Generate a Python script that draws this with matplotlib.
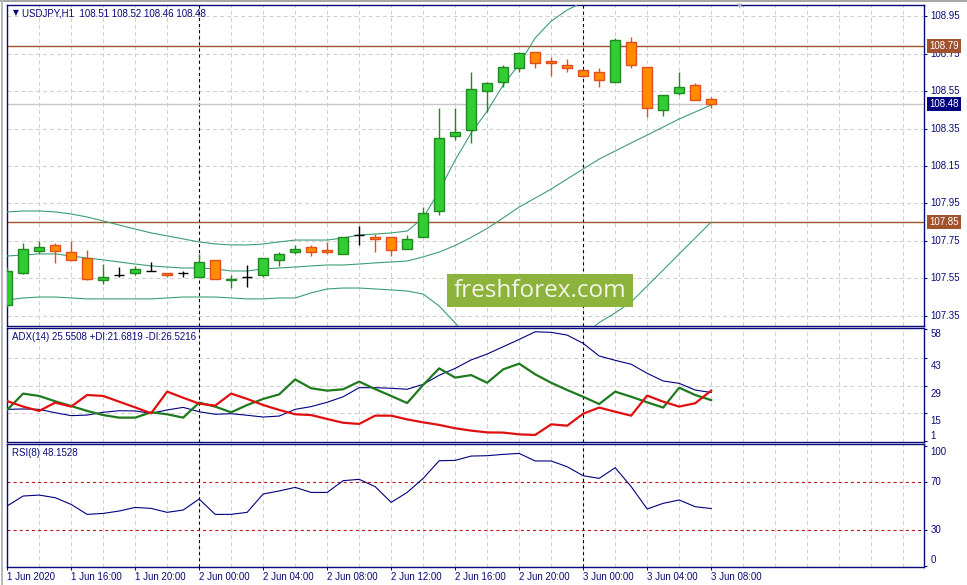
import matplotlib
matplotlib.use("Agg")
import matplotlib.pyplot as plt
import numpy as np
from matplotlib.patches import Rectangle
from matplotlib.transforms import offset_copy

plt.rcParams["font.family"] = ["Liberation Sans", "DejaVu Sans"]
plt.rcParams["lines.scale_dashes"] = False

# ---- data (bar 0 = 1 Jun 12:00) ----
TIME_LABELS = ["1 Jun 2020", "1 Jun 16:00", "1 Jun 20:00", "2 Jun 00:00", "2 Jun 04:00",
               "2 Jun 08:00", "2 Jun 12:00", "2 Jun 16:00", "2 Jun 20:00", "3 Jun 00:00",
               "3 Jun 04:00", "3 Jun 08:00"]
LABEL_BARS = [0, 4, 8, 12, 16, 20, 24, 28, 32, 36, 40, 44]
DAY_SEPARATORS = [12, 36]

opens = [107.409, 107.579, 107.697, 107.729, 107.691, 107.659, 107.542, 107.569, 107.579, 107.590,
         107.579, 107.579, 107.558, 107.649, 107.542, 107.558, 107.569, 107.649, 107.691, 107.718,
         107.702, 107.681, 107.782, 107.771, 107.771, 107.707, 107.771, 107.910, 108.310, 108.342,
         108.550, 108.598, 108.673, 108.758, 108.710, 108.689, 108.662, 108.651, 108.598, 108.811,
         108.678, 108.449, 108.539, 108.582, 108.51]
highs = [107.610, 107.739, 107.750, 107.739, 107.750, 107.702, 107.627, 107.611, 107.617, 107.638,
         107.579, 107.590, 107.681, 107.649, 107.569, 107.622, 107.659, 107.691, 107.729, 107.729,
         107.745, 107.771, 107.830, 107.786, 107.771, 107.782, 107.931, 108.459, 108.459, 108.651,
         108.598, 108.689, 108.758, 108.758, 108.731, 108.721, 108.662, 108.673, 108.833, 108.838,
         108.678, 108.529, 108.651, 108.593, 108.52]
lows = [107.400, 107.575, 107.686, 107.633, 107.649, 107.542, 107.521, 107.558, 107.569, 107.590,
        107.558, 107.558, 107.558, 107.547, 107.499, 107.505, 107.558, 107.617, 107.681, 107.670,
        107.681, 107.681, 107.729, 107.691, 107.670, 107.707, 107.771, 107.889, 108.289, 108.273,
        108.438, 108.571, 108.651, 108.673, 108.630, 108.651, 108.625, 108.571, 108.598, 108.673,
        108.411, 108.417, 108.529, 108.502, 108.46]
closes = [107.590, 107.707, 107.718, 107.697, 107.649, 107.547, 107.558, 107.569, 107.601, 107.590,
          107.569, 107.579, 107.638, 107.547, 107.546, 107.558, 107.659, 107.681, 107.707, 107.691,
          107.691, 107.771, 107.782, 107.761, 107.702, 107.761, 107.899, 108.299, 108.331, 108.561,
          108.593, 108.678, 108.753, 108.699, 108.699, 108.673, 108.630, 108.609, 108.822, 108.689,
          108.459, 108.529, 108.571, 108.502, 108.48]

bb_upper = [107.905, 107.910, 107.910, 107.905, 107.894, 107.878, 107.857, 107.835, 107.814, 107.793,
            107.777, 107.761, 107.745, 107.734, 107.729, 107.729, 107.734, 107.745, 107.755, 107.755,
            107.755, 107.766, 107.782, 107.787, 107.793, 107.803, 107.873, 108.017, 108.182, 108.326,
            108.443, 108.582, 108.694, 108.833, 108.923, 108.982, 109.025, 109.059, 109.094, 109.121,
            109.120, 109.121, 109.121, 109.110, 109.099]
bb_middle = [107.670, 107.675, 107.681, 107.681, 107.670, 107.659, 107.649, 107.638, 107.627, 107.617,
             107.611, 107.606, 107.606, 107.601, 107.590, 107.590, 107.601, 107.606, 107.611, 107.617,
             107.622, 107.622, 107.627, 107.633, 107.638, 107.643, 107.665, 107.691, 107.726, 107.769,
             107.817, 107.873, 107.931, 107.979, 108.027, 108.081, 108.134, 108.187, 108.230, 108.273,
             108.315, 108.358, 108.401, 108.438, 108.475]
bb_lower = [107.435, 107.446, 107.451, 107.451, 107.446, 107.441, 107.441, 107.441, 107.441, 107.441,
            107.446, 107.451, 107.451, 107.451, 107.446, 107.441, 107.441, 107.446, 107.446, 107.473,
            107.494, 107.499, 107.499, 107.494, 107.489, 107.483, 107.467, 107.403, 107.313, 107.212,
            107.191, 107.164, 107.168, 107.125, 107.131, 107.180, 107.243, 107.315, 107.366, 107.425,
            107.510, 107.595, 107.681, 107.766, 107.851]

adx = [17.0, 17.2, 17.0, 15.3, 13.8, 14.1, 15.5, 16.3, 16.2, 15.0, 16.7, 18.0, 15.8, 14.5, 14.8,
       14.0, 13.1, 13.6, 17.0, 18.4, 20.6, 23.4, 28.0, 28.0, 27.7, 27.2, 29.7, 34.3, 37.8, 42.1,
       45.1, 48.8, 52.5, 56.4, 56.1, 54.7, 50.5, 44.1, 41.9, 39.9, 35.3, 31.4, 30.2, 26.8, 25.5508]
plus_di = [16.7, 25.0, 23.8, 21.1, 18.7, 16.2, 14.1, 12.8, 12.8, 15.5, 14.5, 12.8, 20.4, 18.4, 15.5,
           19.2, 22.3, 24.6, 32.2, 27.7, 26.5, 27.2, 31.1, 27.3, 23.8, 20.2, 29.4, 37.8, 33.1, 34.4,
           30.5, 37.3, 40.2, 34.8, 30.5, 26.8, 23.4, 19.7, 26.0, 23.4, 20.6, 17.9, 28.0, 24.3, 21.6819]
minus_di = [21.2, 18.4, 16.2, 20.4, 18.4, 24.3, 23.8, 20.9, 18.0, 15.0, 26.0, 22.9, 19.9, 18.9, 25.0,
            22.3, 19.2, 16.7, 14.5, 14.1, 12.1, 10.2, 9.6, 13.8, 13.8, 11.9, 10.4, 9.1, 7.4, 6.2,
            5.3, 5.2, 4.3, 4.0, 9.4, 8.7, 14.8, 17.9, 15.8, 13.8, 24.0, 20.9, 18.4, 20.1, 26.5216]
rsi = [50.3, 58.6, 59.4, 57.2, 51.6, 43.3, 44.1, 46.1, 49.1, 48.3, 45.0, 46.9, 56.1, 43.3, 43.3,
       45.0, 60.3, 62.8, 65.8, 61.6, 61.6, 71.4, 72.5, 66.4, 53.3, 61.6, 73.3, 88.0, 88.3, 91.9,
       92.2, 93.3, 94.1, 87.8, 87.8, 83.0, 75.5, 73.3, 82.2, 66.4, 47.8, 52.5, 55.3, 49.7, 48.1528]

PRICE_TICKS = [108.95, 108.75, 108.55, 108.35, 108.15, 107.95, 107.75, 107.55, 107.35]
LEVELS = [108.79, 107.85]
BID = 108.48
ADX_TICKS = [58, 43, 29, 15, 1]
RSI_TICKS = [100, 70, 30, 0]
RSI_LEVELS = [70, 30]

NAVY = "#0a0a78"
GRID = "#d0d0d0"
BULL, BULL_EDGE = "#32cd32", "#1f8a1f"
BEAR, BEAR_EDGE = "#ff8c00", "#e0501a"
BB_COLOR = "#3c9e74"
LEVEL_COLOR = "#a0522d"
FS = 7

W, H = 967, 585
fig = plt.figure(figsize=(W / 100, H / 100), dpi=100, facecolor="white")


def px_axes(left, top, right, bottom):
    return fig.add_axes([left / W, 1 - bottom / H, (right - left) / W, (bottom - top) / H])


ax_main = px_axes(6.5, 5, 924, 325.7)
ax_adx = px_axes(6.5, 328.3, 924, 441.7)
ax_rsi = px_axes(6.5, 444.3, 924, 567.3)

dash = (0, (2.9, 2.2))
for ax in (ax_main, ax_adx, ax_rsi):
    ax.set_xlim(-0.04, 57.3)
    for sp in ax.spines.values():
        sp.set_color(NAVY)
        sp.set_linewidth(1.0)
    for gx in range(2, 58, 2):
        ax.axvline(gx, color=GRID, lw=0.75, ls=dash, zorder=0)
    for sep in DAY_SEPARATORS:
        ax.axvline(sep, color="black", lw=0.8, ls=(0, (2.2, 2.2)), zorder=1)
    ax.tick_params(axis="x", bottom=False, labelbottom=False)
    ax.yaxis.tick_right()
    ax.tick_params(axis="y", left=False, right=True, length=2.2, width=0.75,
                   color=NAVY, labelright=False)


def right_label(ax, value, text, va="center", dy=0.0):
    trans = offset_copy(ax.get_yaxis_transform(), fig=fig, x=6.5, y=dy, units="dots")
    ax.text(1.0, value, text, transform=trans, ha="left", va=va, fontsize=FS,
            color=NAVY, clip_on=False)


def price_tag(ax, value, face):
    trans = offset_copy(ax.get_yaxis_transform(), fig=fig, x=5.5, y=0, units="dots")
    ax.text(1.0, value, f"{value:.2f}", transform=trans, ha="left", va="center", fontsize=FS,
            color="white", clip_on=False, zorder=10,
            bbox=dict(boxstyle="square,pad=0.22", fc=face, ec="none"))


def corner_title(ax, text, dx, dy, **kw):
    trans = offset_copy(ax.transAxes, fig=fig, x=dx, y=dy, units="dots")
    style = dict(ha="left", va="center", fontsize=FS, color=NAVY)
    style.update(kw)
    return ax.text(0, 1, text, transform=trans, **style)


# ---- main price panel ----
x = np.arange(len(opens))
o, h, l, c = map(np.array, (opens, highs, lows, closes))
ax_main.set_ylim(107.298, 109.009)
ax_main.set_yticks(PRICE_TICKS)
for gy in PRICE_TICKS:
    ax_main.axhline(gy, color=GRID, lw=0.75, ls=dash, zorder=0)
    right_label(ax_main, gy, f"{gy:.2f}")

ax_main.axhline(BID, color="#c8c8c8", lw=1.0, zorder=1)
for lv in LEVELS:
    ax_main.axhline(lv, color=LEVEL_COLOR, lw=1.0, zorder=2)

for band in (bb_upper, bb_middle, bb_lower):
    ax_main.plot(x, band, color=BB_COLOR, lw=0.8, zorder=3)

doji = np.abs(c - o) < 0.0005
bull = (c > o) & ~doji
bear = (c < o) & ~doji
body_w = 0.65
ax_main.vlines(x[bull], l[bull], h[bull], color=BULL_EDGE, lw=1.0, zorder=4)
ax_main.vlines(x[bear], l[bear], h[bear], color=BEAR_EDGE, lw=1.0, zorder=4)
ax_main.vlines(x[doji], l[doji], h[doji], color="black", lw=1.0, zorder=4)
ax_main.bar(x[bull], (c - o)[bull], bottom=o[bull], width=body_w, color=BULL,
            edgecolor=BULL_EDGE, linewidth=1.0, zorder=5)
ax_main.bar(x[bear], (o - c)[bear], bottom=c[bear], width=body_w, color=BEAR,
            edgecolor=BEAR_EDGE, linewidth=1.0, zorder=5)
ax_main.hlines(c[doji], x[doji] - body_w / 2, x[doji] + body_w / 2, color="black", lw=1.0, zorder=5)

for lv in LEVELS:
    price_tag(ax_main, lv, LEVEL_COLOR)
price_tag(ax_main, BID, "#00007e")

corner_title(ax_main, "\u25bc", 6.5, -8, fontsize=5.5, family="DejaVu Sans")
corner_title(ax_main, f"USDJPY,H1  {opens[-1]:.2f} {highs[-1]:.2f} {lows[-1]:.2f} {closes[-1]:.2f}",
             15.5, -8)

# ---- ADX panel ----
ax_adx.set_ylim(0.58, 58.15)
ax_adx.set_yticks(ADX_TICKS)
for gy in ADX_TICKS[1:-1]:
    ax_adx.axhline(gy, color=GRID, lw=0.75, ls=dash, zorder=0)
right_label(ax_adx, ADX_TICKS[0], str(ADX_TICKS[0]), va="top")
for t in ADX_TICKS[1:-1]:
    right_label(ax_adx, t, str(t), va="top", dy=-3)
right_label(ax_adx, ADX_TICKS[-1], str(ADX_TICKS[-1]), va="bottom")
ax_adx.plot(x, adx, color="#000080", lw=0.8, zorder=3)
ax_adx.plot(x, plus_di, color="#1f7a1f", lw=1.6, zorder=4)
ax_adx.plot(x, minus_di, color="#e01010", lw=1.6, zorder=4)
corner_title(ax_adx, f"ADX(14) {adx[-1]:.4f} +DI:{plus_di[-1]:.4f} -DI:{minus_di[-1]:.4f}", 5.5, -9)

# ---- RSI panel ----
ax_rsi.set_ylim(-0.8, 101.7)
ax_rsi.set_yticks(RSI_TICKS)
for lv in RSI_LEVELS:
    ax_rsi.axhline(lv, color="#c01818", lw=0.8, ls=(0, (2.2, 2.2)), zorder=1)
right_label(ax_rsi, RSI_TICKS[0], str(RSI_TICKS[0]), va="top", dy=-1)
for t in RSI_TICKS[1:-1]:
    right_label(ax_rsi, t, str(t))
right_label(ax_rsi, RSI_TICKS[-1], str(RSI_TICKS[-1]), va="bottom", dy=1)
ax_rsi.plot(x, rsi, color="#000080", lw=0.8, zorder=3)
corner_title(ax_rsi, f"RSI(8) {rsi[-1]:.4f}", 5.5, -9)

ax_rsi.set_xticks(LABEL_BARS)
ax_rsi.set_xticklabels(TIME_LABELS, ha="left")
ax_rsi.tick_params(axis="x", bottom=True, labelbottom=True, length=2.2, width=0.75, pad=1.5,
                   color=NAVY, labelcolor=NAVY, labelsize=FS)

# ---- watermark and window chrome ----
fig.patches.append(Rectangle((447 / W, 1 - 307 / H), 186 / W, 33 / H, transform=fig.transFigure,
                             facecolor="#8cb33c", edgecolor="none", zorder=20))
fig.text(540 / W, 1 - 291 / H, "freshforex.com", ha="center", va="center", fontsize=17.5,
         family="Open Sans", color="#f4f4e8", zorder=21)
fig.text(740 / W, 1 - 6 / H, "\u25bc", ha="center", va="center", fontsize=5,
         family="DejaVu Sans", color="#b8b8c4")
fig.patches.append(Rectangle((0, 1 - 2 / H), 1, 2 / H, transform=fig.transFigure,
                             facecolor="#a8a8a8", edgecolor="none"))
fig.patches.append(Rectangle((1 / W, 0), 2 / W, 1, transform=fig.transFigure,
                             facecolor="#b8b8b8", edgecolor="none"))

fig.savefig("out.png", dpi=100, facecolor="white")
